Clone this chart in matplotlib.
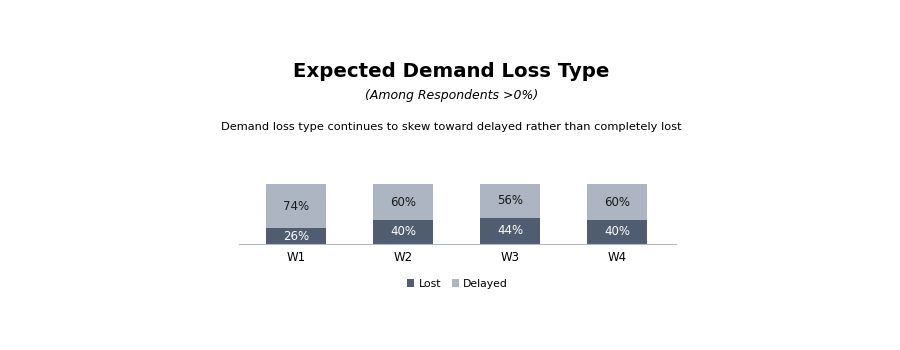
import matplotlib.pyplot as plt
import numpy as np

weeks = ["W1", "W2", "W3", "W4"]
lost = [26, 40, 44, 40]
delayed = [74, 60, 56, 60]

lost_color = "#505c70"
delayed_color = "#adb5c2"

fig = plt.figure(figsize=(9, 3.5), dpi=100)
ax = fig.add_axes([0.2656, 0.303, 0.4856, 0.171])

x = np.arange(len(weeks))
ax.bar(x, lost, width=0.56, color=lost_color, label="Lost")
ax.bar(x, delayed, width=0.56, bottom=lost, color=delayed_color, label="Delayed")

for i in range(len(weeks)):
    ax.text(x[i], lost[i] / 2, f"{lost[i]}%", ha="center", va="center",
            color="white", fontsize=8.5)
    ax.text(x[i], lost[i] + delayed[i] / 2, f"{delayed[i]}%", ha="center",
            va="center", color="#1a1a1a", fontsize=8.5)

ax.set_xlim(-0.533, 3.551)
ax.set_ylim(0, 100)
ax.set_xticks(x)
ax.set_xticklabels(weeks, fontsize=8.5)
ax.tick_params(axis="x", length=0, pad=5)
ax.set_yticks([])
for s in ["top", "left", "right"]:
    ax.spines[s].set_visible(False)
ax.spines["bottom"].set_color("#b4bac4")

fig.text(0.501, 0.795, "Expected Demand Loss Type", ha="center", va="center",
         fontsize=14.2, fontweight="heavy")
fig.text(0.502, 0.726, "(Among Respondents >0%)", ha="center", va="center",
         fontsize=9, style="italic")
fig.text(0.501, 0.637, "Demand loss type continues to skew toward delayed rather than completely lost",
         ha="center", va="center", fontsize=8.2)

ax.legend(loc="upper center", bbox_to_anchor=(0.5, -0.42), ncol=2, frameon=False,
          fontsize=7.8, handlelength=0.65, handleheight=0.65, handletextpad=0.4,
          columnspacing=1.0)

fig.savefig("out.png", dpi=100)
